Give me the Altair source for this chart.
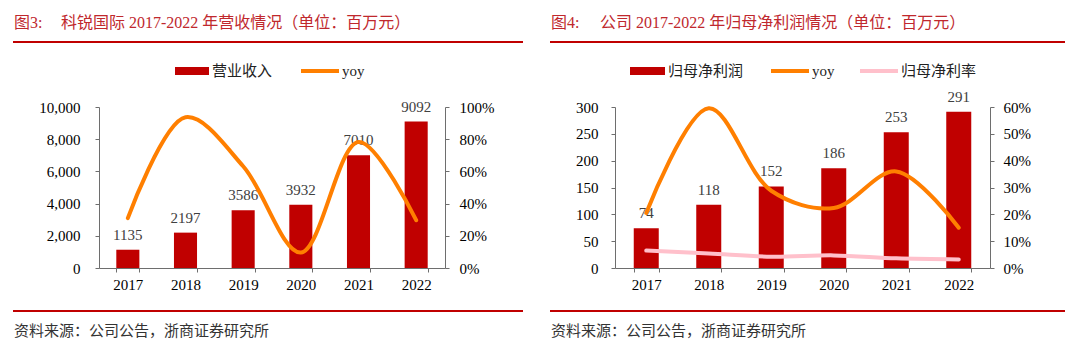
import altair as alt
import pandas as pd

# ---------------- data ----------------
years = ["2017", "2018", "2019", "2020", "2021", "2022"]
revenue = [1135, 2197, 3586, 3932, 7010, 9092]
revenue_yoy = [0.31, 0.936, 0.632, 0.096, 0.783, 0.297]
profit = [74, 118, 152, 186, 253, 291]
profit_yoy = [0.205, 0.595, 0.288, 0.224, 0.36, 0.15]
profit_margin = [0.065, 0.054, 0.042, 0.047, 0.036, 0.032]

left_ticks = [0, 2000, 4000, 6000, 8000, 10000]
left_pct_ticks = [0, 0.2, 0.4, 0.6, 0.8, 1.0]
right_ticks = [0, 50, 100, 150, 200, 250, 300]
right_pct_ticks = [0, 0.1, 0.2, 0.3, 0.4, 0.5, 0.6]

title3_prefix = "图3:"
title3 = "科锐国际 2017-2022 年营收情况（单位：百万元）"
title4_prefix = "图4:"
title4 = "公司 2017-2022 年归母净利润情况（单位：百万元）"
source_text = "资料来源：公司公告，浙商证券研究所"
legend3 = ["营业收入", "yoy"]
legend4 = ["归母净利润", "yoy", "归母净利率"]

# ---------------- style ----------------
SERIF = "Liberation Serif, Noto Sans CJK SC"
CJK = "Noto Sans CJK SC, Liberation Serif"
BAR = "#C00000"
ORANGE = "#FF7F00"
PINK = "#FFC0CB"
TITLE_RED = "#C0282D"
AXIS_GRAY = "#6E6E6E"
H = 161

one = pd.DataFrame({"k": [0]})


def xenc():
    return alt.X(
        "year:N",
        sort=years,
        scale=alt.Scale(paddingInner=0.6, paddingOuter=0.3),
        axis=alt.Axis(
            title=None, labelAngle=0, labelFont=SERIF, labelFontSize=15,
            labelColor="#000", domainColor=AXIS_GRAY, tickColor=AXIS_GRAY,
            tickBand="extent", tickSize=4, labelPadding=5,
        ),
    )


def deco(xl, xr, title_prefix, title_x, title, legend_parts):
    layers = []
    layers.append(alt.Chart(one).mark_text(align="left", baseline="middle", font=SERIF,
                                           fontSize=16, color=TITLE_RED)
                  .encode(x=alt.value(xl + 1), y=alt.value(-84), text=alt.value(title_prefix)))
    layers.append(alt.Chart(one).mark_text(align="left", baseline="middle", font=SERIF,
                                           fontSize=16, color=TITLE_RED)
                  .encode(x=alt.value(title_x), y=alt.value(-84), text=alt.value(title)))
    for yy in (-65, 204):
        layers.append(alt.Chart(one).mark_rule(color=BAR, strokeWidth=2)
                      .encode(x=alt.value(xl), x2=alt.value(xr), y=alt.value(yy)))
    layers.append(alt.Chart(one).mark_text(align="left", baseline="middle", font=CJK,
                                           fontSize=15, color="#333")
                  .encode(x=alt.value(xl + 1), y=alt.value(224), text=alt.value(source_text)))
    for kind, x0, x1, color, label in legend_parts:
        if kind == "rect":
            layers.append(alt.Chart(one).mark_rect(color=color)
                          .encode(x=alt.value(x0), x2=alt.value(x1),
                                  y=alt.value(-40), y2=alt.value(-32)))
        else:
            layers.append(alt.Chart(one).mark_rule(color=color, strokeWidth=4)
                          .encode(x=alt.value(x0), x2=alt.value(x1), y=alt.value(-36)))
        layers.append(alt.Chart(one).mark_text(align="left", baseline="middle", font=SERIF,
                                               fontSize=15, color="#222")
                      .encode(x=alt.value(x1 + 3), y=alt.value(-36), text=alt.value(label)))
    return layers


def panel(W, bar_vals, lines, lmax, lticks, lfmt, lpad, rmax, rticks, rpad,
          xl, xr, title_prefix, title_x, title, legend_parts):
    df = pd.DataFrame({"year": years, "value": bar_vals})

    def yl():
        return alt.Y("value:Q", scale=alt.Scale(domain=[0, lmax], nice=False),
                     axis=alt.Axis(title=None, values=lticks, format=lfmt, labelFont=SERIF,
                                   labelFontSize=15, labelColor="#000", grid=False,
                                   labelOverlap=False,
                                   domainColor=AXIS_GRAY, tickColor=AXIS_GRAY, tickSize=4,
                                   labelPadding=lpad))

    bars = alt.Chart(df).mark_bar(color=BAR).encode(x=xenc(), y=yl())
    labels = alt.Chart(df).mark_text(dy=-10, baseline="alphabetic", font=SERIF,
                                     fontSize=15, color="#404040").encode(
        x=xenc(), y=yl(), text=alt.Text("value:Q", format="d"))
    left = alt.layer(bars, labels)

    line_layers = []
    for vals, color in lines:
        dl = pd.DataFrame({"year": years, "pct": vals})
        line_layers.append(
            alt.Chart(dl).mark_line(color=color, strokeWidth=4, interpolate="catmull-rom",
                                    strokeCap="round")
            .encode(x=xenc(),
                    y=alt.Y("pct:Q", scale=alt.Scale(domain=[0, rmax], nice=False),
                            axis=alt.Axis(title=None, orient="right", values=rticks,
                                          format=".0%", labelFont=SERIF, labelFontSize=15,
                                          labelColor="#000", grid=False, labelOverlap=False,
                                          domainColor=AXIS_GRAY, tickColor=AXIS_GRAY,
                                          tickSize=4, labelPadding=rpad))))
    right = alt.layer(*line_layers)
    return alt.layer(left, right, *deco(xl, xr, title_prefix, title_x, title, legend_parts)) \
        .resolve_scale(y="independent").properties(width=W, height=H)


p1 = panel(346, revenue, [(revenue_yoy, ORANGE)], 10000, left_ticks, ",d", 15,
           1.0, left_pct_ticks, 10, -86, 424, title3_prefix, -38, title3,
           [("rect", 76, 110, BAR, legend3[0]), ("line", 202, 240, ORANGE, legend3[1])])
p2 = panel(375, profit, [(profit_margin, PINK), (profit_yoy, ORANGE)], 300, right_ticks, "d", 13,
           0.6, right_pct_ticks, 9, -65, 450, title4_prefix, -15, title4,
           [("rect", 15, 50, BAR, legend4[0]), ("line", 156, 194, ORANGE, legend4[1]),
            ("line", 245, 283, PINK, legend4[2])])

chart = alt.hconcat(p1, p2, spacing=25).properties(
    padding={"left": 12, "top": 15, "right": 0, "bottom": 0},
    background="white",
).configure_view(stroke=None)

chart.save("out.html", embed_options={"renderer": "svg", "actions": False})
